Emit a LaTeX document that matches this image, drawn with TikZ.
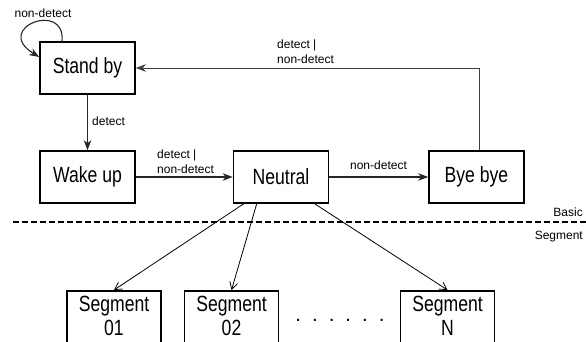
\documentclass[tikz,border=0pt]{standalone}
\usepackage{fontspec}
\setmainfont{Liberation Sans}
\newfontfamily\narrowsans{Liberation Sans}[FakeStretch=0.8]
\usetikzlibrary{positioning,arrows.meta}
\begin{document}
\begin{tikzpicture}[x=1pt,y=-1pt,>={Stealth[length=10pt,width=7.5pt,inset=3pt]},
      state/.style={draw,line width=1.6pt,minimum width=95pt,minimum height=52pt,inner sep=0pt,
                    font=\fontsize{22}{27}\narrowsans},
      segbox/.style={draw,line width=1.6pt,minimum width=94pt,anchor=north,align=center,text depth=12pt,
                     inner xsep=0pt,inner ysep=5pt,font=\fontsize{22}{27}\narrowsans},
      lbl/.style={font=\fontsize{12}{14.5}\selectfont,inner sep=0pt,align=left},
      ar/.style={->,line width=1.1pt,draw=black!85},
      segar/.style={-{Straight Barb[length=7pt,width=8pt]},line width=0.8pt}]
    \clip (0,0) rectangle (586,341);
    \node[state] (sb) at (87.5,68)  {Stand by};
    \node[state] (wu) at (87.5,177) {Wake up};
    \node[state] (nt) at (281,177)  {Neutral};
    \node[state] (bb) at (476.5,177) {Bye bye};
    \node[segbox] (s1) at (114,290)   {Segment\\[-3pt]01};
    \node[segbox] (s2) at (231.5,290) {Segment\\[-3pt]02};
    \node[segbox] (sn) at (447.5,290) {Segment\\[-3pt]N};
    \node[font=\fontsize{20.5}{29}\selectfont,anchor=base,inner sep=0pt] (dots) at (340,321)
      {.\hspace{11pt}.\hspace{11pt}.\hspace{11pt}.\hspace{11pt}.\hspace{11pt}.};
    \draw[ar] ([xshift=-25.5pt]sb.north) .. controls (66,0) and (-8,28) .. ([yshift=11pt]sb.west);
    \node[lbl,anchor=base] (lloop) at (43,17) {non-detect};
    \draw[ar] (sb) -- (wu);
    \node[lbl,anchor=base west] (ldet) at (92,125) {detect};
    \draw[ar] (wu) -- (nt);
    \node[lbl,anchor=north west] (lwn) at (157,150) {detect |\\non-detect};
    \draw[ar] (nt) -- (bb);
    \node[lbl,anchor=base] (lnb) at (378.5,169) {non-detect};
    \draw[ar,draw=black!75,line width=0.8pt] ([xshift=3pt]bb.north) |- (sb.east);
    \node[lbl,anchor=north west] (lbs) at (277,40) {detect |\\non-detect};
    \draw[line width=2.2pt,dash pattern=on 6pt off 3pt] (13,222) -- (586,222);
    \node[lbl,anchor=base east] (lbasic) at (583,216) {Basic};
    \node[lbl,anchor=base east] (lseg) at (583,239) {Segment};
    \foreach \s/\dx in {s1/11,s2/24,sn/82} \draw[segar] ([xshift=\dx pt]nt.south west) -- (\s.north);
  \end{tikzpicture}
\end{document}
